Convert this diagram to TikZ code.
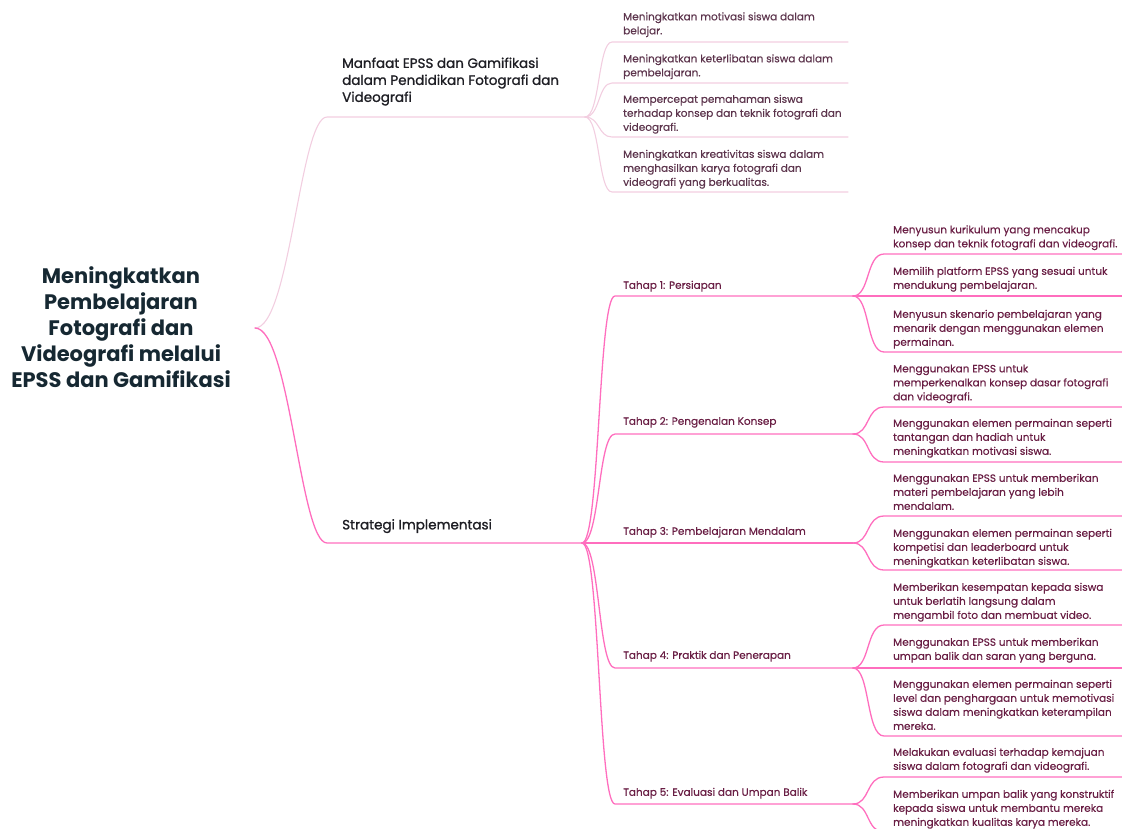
\documentclass[tikz,border=0pt]{standalone}
\usepackage{fontspec}
\setmainfont{Poppins}
\newfontfamily\medfont[FakeBold=1.2]{Poppins}
\newfontfamily\leaffont[FakeBold=0.4]{Poppins}
\definecolor{rootc}{RGB}{22,40,50}
\definecolor{brc}{RGB}{30,30,36}
\definecolor{leafa}{RGB}{92,52,76}
\definecolor{leafb}{RGB}{105,30,68}
\definecolor{pinka}{RGB}{242,206,224}
\definecolor{pinkb}{RGB}{255,110,190}
\begin{document}
\begin{tikzpicture}[x=1pt,y=-1pt,
  rootsty/.style={font=\bfseries\fontsize{21}{26}\selectfont,text=rootc,align=center,inner sep=0pt},
  brsty/.style={font=\medfont\fontsize{13.5}{17}\selectfont,text=brc,align=left,anchor=west,inner sep=0pt},
  leafsty/.style={font=\leaffont\fontsize{10.5}{14}\selectfont,text=leafb,align=left,anchor=west,inner sep=0pt},
  leafA/.style={leafsty,text=leafa},
  edgeA/.style={draw=pinka,line width=1.1pt,line cap=round},
  edgeB/.style={draw=pinkb,line width=1.3pt,line cap=round}]
\useasboundingbox (0,0) rectangle (1122,828);
\clip (0,0) rectangle (1122,828);
% root
\node[rootsty] (root) at (121,330) {\strut Meningkatkan\\Pembelajaran\\Fotografi dan\\Videografi melalui\\EPSS dan Gamifikasi\strut};
\coordinate (o) at (255,328);
% branch 1
\node[brsty] (b1) at (342,81.5) {\strut Manfaat EPSS dan Gamifikasi\\dalam Pendidikan Fotografi dan\\Videografi\strut};
\coordinate (b1s) at (327,117); \coordinate (b1e) at (585,117);
\draw[edgeA] (o) .. controls (290,328) and (300,117) .. (b1s) -- (b1e);
\node[leafA] (a1) at (623,24.5) {\strut Meningkatkan motivasi siswa dalam\\belajar.\strut};
\node[leafA] (a2) at (623,66.5) {\strut Meningkatkan keterlibatan siswa dalam\\pembelajaran.\strut};
\node[leafA] (a3) at (623,114) {\strut Mempercepat pemahaman siswa\\terhadap konsep dan teknik fotografi dan\\videografi.\strut};
\node[leafA] (a4) at (623,169) {\strut Meningkatkan kreativitas siswa dalam\\menghasilkan karya fotografi dan\\videografi yang berkualitas.\strut};
\coordinate (a1s) at (612,42);  \coordinate (a1e) at (848,42);
\coordinate (a2s) at (612,83);  \coordinate (a2e) at (848,83);
\coordinate (a3s) at (612,137); \coordinate (a3e) at (848,137);
\coordinate (a4s) at (612,192); \coordinate (a4e) at (848,192);
\draw[edgeA] (b1e) .. controls (600,117) and (598,42) .. (a1s) -- (a1e);
\draw[edgeA] (b1e) .. controls (600,117) and (598,83) .. (a2s) -- (a2e);
\draw[edgeA] (b1e) .. controls (600,117) and (598,137) .. (a3s) -- (a3e);
\draw[edgeA] (b1e) .. controls (600,117) and (598,192) .. (a4s) -- (a4e);
% branch 2
\node[brsty] (b2) at (342,526) {\strut Strategi Implementasi\strut};
\coordinate (b2s) at (327,543); \coordinate (b2e) at (582,543);
\draw[edgeB] (o) .. controls (290,328) and (300,543) .. (b2s) -- (b2e);
% tahap nodes
\node[leafsty] (t1) at (623,286) {\strut Tahap 1: Persiapan\strut};
\node[leafsty] (t2) at (623,422) {\strut Tahap 2: Pengenalan Konsep\strut};
\node[leafsty] (t3) at (623,532) {\strut Tahap 3: Pembelajaran Mendalam\strut};
\node[leafsty] (t4) at (623,656) {\strut Tahap 4: Praktik dan Penerapan\strut};
\node[leafsty] (t5) at (623,793) {\strut Tahap 5: Evaluasi dan Umpan Balik\strut};
\coordinate (t1s) at (615,296); \coordinate (t1e) at (853,296);
\coordinate (t2s) at (615,434); \coordinate (t2e) at (853,434);
\coordinate (t3s) at (615,543); \coordinate (t3e) at (853,543);
\coordinate (t4s) at (615,668); \coordinate (t4e) at (853,668);
\coordinate (t5s) at (615,804); \coordinate (t5e) at (853,804);
\draw[edgeB] (b2e) .. controls (600,543) and (598,296) .. (t1s) -- (t1e);
\draw[edgeB] (b2e) .. controls (600,543) and (598,434) .. (t2s) -- (t2e);
\draw[edgeB] (b2e) -- (t3s) -- (t3e);
\draw[edgeB] (b2e) .. controls (600,543) and (598,668) .. (t4s) -- (t4e);
\draw[edgeB] (b2e) .. controls (600,543) and (598,804) .. (t5s) -- (t5e);
% leaves of tahap 1
\node[leafsty] (l11) at (893,237.5) {\strut Menyusun kurikulum yang mencakup\\konsep dan teknik fotografi dan videografi.\strut};
\node[leafsty] (l12) at (893,279) {\strut Memilih platform EPSS yang sesuai untuk\\mendukung pembelajaran.\strut};
\node[leafsty] (l13) at (893,329) {\strut Menyusun skenario pembelajaran yang\\menarik dengan menggunakan elemen\\permainan.\strut};
% tahap 2
\node[leafsty] (l21) at (893,383.5) {\strut Menggunakan EPSS untuk\\memperkenalkan konsep dasar fotografi\\dan videografi.\strut};
\node[leafsty] (l22) at (893,438) {\strut Menggunakan elemen permainan seperti\\tantangan dan hadiah untuk\\meningkatkan motivasi siswa.\strut};
% tahap 3
\node[leafsty] (l31) at (893,493) {\strut Menggunakan EPSS untuk memberikan\\materi pembelajaran yang lebih\\mendalam.\strut};
\node[leafsty] (l32) at (893,548) {\strut Menggunakan elemen permainan seperti\\kompetisi dan leaderboard untuk\\meningkatkan keterlibatan siswa.\strut};
% tahap 4
\node[leafsty] (l41) at (893,602) {\strut Memberikan kesempatan kepada siswa\\untuk berlatih langsung dalam\\mengambil foto dan membuat video.\strut};
\node[leafsty] (l42) at (893,650) {\strut Menggunakan EPSS untuk memberikan\\umpan balik dan saran yang berguna.\strut};
\node[leafsty] (l43) at (893,706) {\strut Menggunakan elemen permainan seperti\\level dan penghargaan untuk memotivasi\\siswa dalam meningkatkan keterampilan\\mereka.\strut};
% tahap 5
\node[leafsty] (l51) at (893,760) {\strut Melakukan evaluasi terhadap kemajuan\\siswa dalam fotografi dan videografi.\strut};
\node[leafsty] (l52) at (893,809) {\strut Memberikan umpan balik yang konstruktif\\kepada siswa untuk membantu mereka\\meningkatkan kualitas karya mereka.\strut};
% leaf underlines
\coordinate (l11s) at (884,254); \coordinate (l11e) at (1122,254);
\coordinate (l12s) at (884,296); \coordinate (l12e) at (1122,296);
\coordinate (l13s) at (884,352); \coordinate (l13e) at (1122,352);
\coordinate (l21s) at (884,407); \coordinate (l21e) at (1122,407);
\coordinate (l22s) at (884,462); \coordinate (l22e) at (1122,462);
\coordinate (l31s) at (884,516); \coordinate (l31e) at (1122,516);
\coordinate (l32s) at (884,570); \coordinate (l32e) at (1122,570);
\coordinate (l41s) at (884,625); \coordinate (l41e) at (1122,625);
\coordinate (l42s) at (884,668); \coordinate (l42e) at (1122,668);
\coordinate (l43s) at (884,736); \coordinate (l43e) at (1122,736);
\coordinate (l51s) at (884,777); \coordinate (l51e) at (1122,777);
\coordinate (l52s) at (884,832); \coordinate (l52e) at (1122,832);
\draw[edgeB] (t1e) .. controls (870,296) and (866,254) .. (l11s) -- (l11e);
\draw[edgeB] (t1e) -- (l12s) -- (l12e);
\draw[edgeB] (t1e) .. controls (870,296) and (866,352) .. (l13s) -- (l13e);
\draw[edgeB] (t2e) .. controls (870,434) and (866,407) .. (l21s) -- (l21e);
\draw[edgeB] (t2e) .. controls (870,434) and (866,462) .. (l22s) -- (l22e);
\draw[edgeB] (t3e) .. controls (870,543) and (866,516) .. (l31s) -- (l31e);
\draw[edgeB] (t3e) .. controls (870,543) and (866,570) .. (l32s) -- (l32e);
\draw[edgeB] (t4e) .. controls (870,668) and (866,625) .. (l41s) -- (l41e);
\draw[edgeB] (t4e) -- (l42s) -- (l42e);
\draw[edgeB] (t4e) .. controls (870,668) and (866,736) .. (l43s) -- (l43e);
\draw[edgeB] (t5e) .. controls (870,804) and (866,777) .. (l51s) -- (l51e);
\draw[edgeB] (t5e) .. controls (870,804) and (866,832) .. (l52s) -- (l52e);
\end{tikzpicture}
\end{document}
